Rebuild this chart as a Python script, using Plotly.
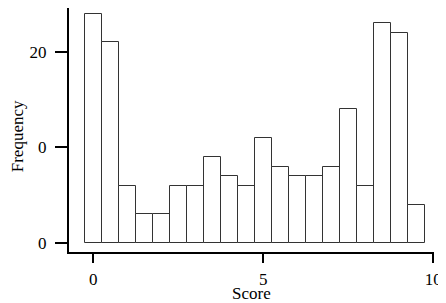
import plotly.graph_objects as go

bin_centers = [0, 0.5, 1, 1.5, 2, 2.5, 3, 3.5, 4, 4.5, 5, 5.5, 6, 6.5, 7, 7.5, 8, 8.5, 9, 9.5]
frequencies = [24, 21, 6, 3, 3, 6, 6, 9, 7, 6, 11, 8, 7, 7, 8, 14, 6, 23, 22, 4]
x_ticks = [0, 5, 10]
x_tick_labels = ["0", "5", "10"]
y_ticks = [0, 10, 20]
y_tick_labels = ["0", "0", "20"]

FONT = "Liberation Serif"

fig = go.Figure(go.Bar(
    x=bin_centers, y=frequencies, width=0.5,
    marker=dict(color="white", line=dict(color="#333333", width=1)),
))

# page body has an 8px default margin, so the figure is sized/offset to fit the window
fig.update_layout(
    width=438, height=295,
    margin=dict(l=61, r=12, t=0, b=51),
    plot_bgcolor="white", paper_bgcolor="white",
    font=dict(family=FONT, size=17, color="black"),
    showlegend=False,
    bargap=0,
    annotations=[
        dict(text="Score", xref="paper", yref="paper", x=0.5, y=-0.17,
             xanchor="center", yanchor="middle", showarrow=False,
             font=dict(family=FONT, size=17)),
        dict(text="Frequency", xref="paper", yref="paper", x=-0.142, y=0.475,
             xanchor="center", yanchor="middle", showarrow=False, textangle=-90,
             font=dict(family=FONT, size=17)),
    ],
)
fig.update_xaxes(
    range=[-0.71, 10.02], tickvals=x_ticks, ticktext=x_tick_labels,
    showline=True, linecolor="black", linewidth=2,
    ticks="outside", ticklen=9, tickwidth=2, tickcolor="black",
    showgrid=False, zeroline=False, automargin=False,
    ticklabelstandoff=2,
    tickfont=dict(family=FONT, size=17),
)
fig.update_yaxes(
    range=[-0.95, 24.6], tickvals=y_ticks, ticktext=y_tick_labels,
    showline=True, linecolor="black", linewidth=2,
    ticks="outside", ticklen=12, tickwidth=2, tickcolor="black",
    showgrid=False, zeroline=False, automargin=False,
    ticklabelstandoff=5,
    tickfont=dict(family=FONT, size=17),
)

fig.write_html("out.html")
